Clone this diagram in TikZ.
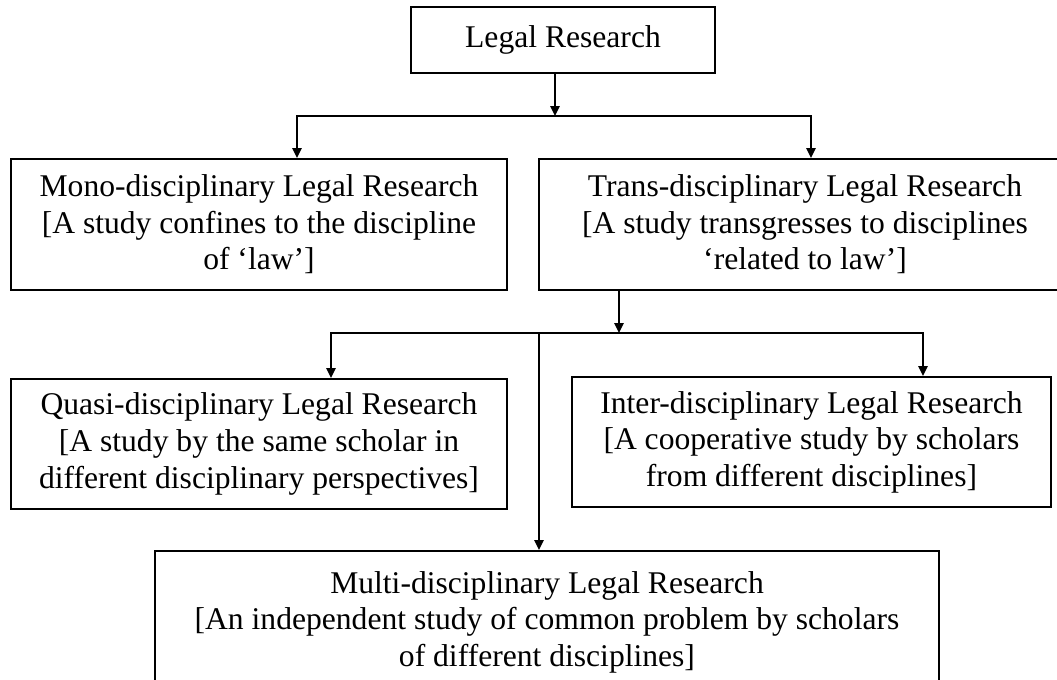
\documentclass[tikz,border=0pt]{standalone}
\usepackage{fontspec}
\setmainfont{Liberation Serif}
\usetikzlibrary{positioning,arrows.meta}

\begin{document}
\begin{tikzpicture}[x=0.5pt, y=-0.5pt, >={Triangle[length=5pt,width=4.6pt]},
  box/.style={draw, line width=1pt, inner sep=0pt, align=center, font=\fontsize{15.8}{18.3}\selectfont},
  link/.style={line width=1pt}]
\useasboundingbox (0,0) rectangle (1057,680);

\node[box, minimum width=152pt, minimum height=33pt] (legal) at (563,40) {Legal Research};
\node[box, minimum width=248pt, minimum height=65.5pt] (mono) at (259,224.5)
  {Mono-disciplinary Legal Research\\ {[}A study confines to the discipline\\ of ‘law’]};
\node[box, minimum width=266pt, minimum height=65.5pt] (trans) at (805,224.5)
  {Trans-disciplinary Legal Research\\ {[}A study transgresses to disciplines\\ ‘related to law’]};
\node[box, minimum width=248pt, minimum height=65pt, below=43.5pt of mono] (quasi)
  {Quasi-disciplinary Legal Research\\ {[}A study by the same scholar in\\ different disciplinary perspectives]};
\node[box, minimum width=239.5pt, minimum height=65pt] (inter) at (811.5,442)
  {Inter-disciplinary Legal Research\\ {[}A cooperative study by scholars\\ from different disciplines]};
\node[box, minimum width=392pt, minimum height=71pt] (multi) at (547,622)
  {Multi-disciplinary Legal Research\\ {[}An independent study of common problem by scholars\\ of different disciplines]};

% first level
\coordinate (j1) at (555,116);
\coordinate (b1l) at (297,116);
\coordinate (b1r) at (811,116);
\draw[link,->] (j1 |- legal.south) -- (j1);
\draw[link,<->] (b1l |- mono.north) -- (b1l) -- (b1r) -- (b1r |- trans.north);

% second level
\coordinate (j2) at (619,333);
\coordinate (b2l) at (331,333);
\coordinate (b2m) at (539,333);
\coordinate (b2r) at (923,333);
\draw[link,->] (j2 |- trans.south) -- (j2);
\draw[link,<->] (b2l |- quasi.north) -- (b2l) -- (b2r) -- (b2r |- inter.north);
\draw[link,->] (b2m) -- (b2m |- multi.north);
\end{tikzpicture}
\end{document}
